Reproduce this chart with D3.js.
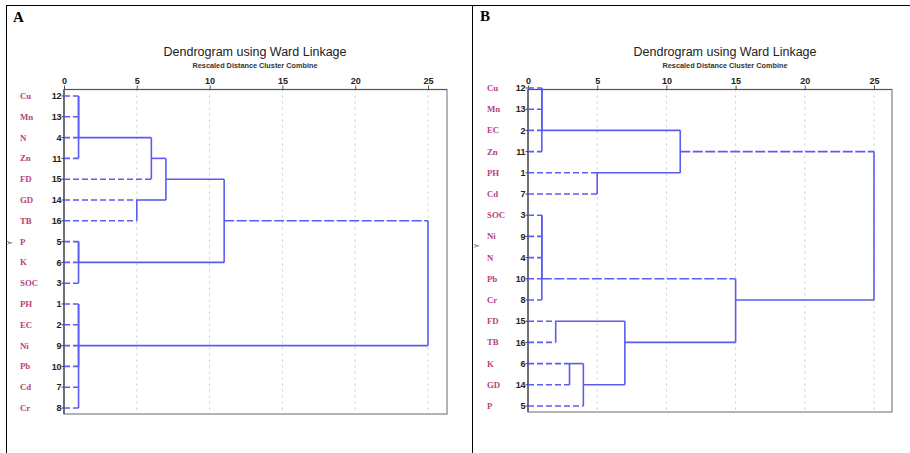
<!DOCTYPE html>
<html>
<head>
<meta charset="utf-8">
<script src="https://cdn.jsdelivr.net/npm/d3@7"></script>
<style>
  body { margin: 0; background: #fff; }
  svg { display: block; }
</style>
</head>
<body>
<svg width="910" height="453"></svg>
<script>
// leaf order (top to bottom) and SPSS case numbers
const leavesA = ["Cu", "Mn", "N", "Zn", "FD", "GD", "TB", "P", "K", "SOC", "PH", "EC", "Ni", "Pb", "Cd", "Cr"];
const casesA = [12, 13, 4, 11, 15, 14, 16, 5, 6, 3, 1, 2, 9, 10, 7, 8];
const leavesB = ["Cu", "Mn", "EC", "Zn", "PH", "Cd", "SOC", "Ni", "N", "Pb", "Cr", "FD", "TB", "K", "GD", "P"];
const casesB = [12, 13, 2, 11, 1, 7, 3, 9, 4, 10, 8, 15, 16, 6, 14, 5];

// agglomeration: [child1, child2, rescaled distance]; numbers = earlier merge index
const mergesA = [
  ["Cu", "Mn", 1], [0, "N", 1], [1, "Zn", 1],
  [2, "FD", 6], ["GD", "TB", 5], [3, 4, 7],
  ["P", "K", 1], [6, "SOC", 1], [5, 7, 11],
  ["PH", "EC", 1], ["Ni", "Pb", 1], ["Cd", "Cr", 1], [9, 10, 1], [12, 11, 1],
  [8, 13, 25]
];
const mergesB = [
  ["Cu", "Mn", 1], [0, "EC", 1], [1, "Zn", 1],
  ["PH", "Cd", 5], [2, 3, 11],
  ["SOC", "Ni", 1], [5, "N", 1], [6, "Pb", 1], [7, "Cr", 1],
  ["FD", "TB", 2], ["K", "GD", 3], [10, "P", 4], [9, 11, 7],
  [8, 12, 15],
  [4, 13, 25]
];
const ticks = [0, 5, 10, 15, 20, 25];

const blue = "#5b5bf2";
const svg = d3.select("svg");

// table borders
svg.append("line").attr("x1", 6).attr("x2", 910).attr("y1", 5.5).attr("y2", 5.5).attr("stroke", "#000");
svg.append("line").attr("x1", 6.5).attr("x2", 6.5).attr("y1", 5).attr("y2", 453).attr("stroke", "#000");
svg.append("line").attr("x1", 472.5).attr("x2", 472.5).attr("y1", 5).attr("y2", 453).attr("stroke", "#000");

// longDash: merge nodes whose outgoing line is drawn long-dashed in the original
const panels = [
  { letter: "A", lx: 13, ly: 22, leaves: leavesA, cases: casesA, merges: mergesA,
    x0: 64, x1: 428, right: 447, top: 89.5, bottom: 414, y0: 96, y1: 408,
    nameX: 20, numX: 61, titleX: 255, yLabX: 12, yLabY: 243, longDash: [8] },
  { letter: "B", lx: 480, ly: 21, leaves: leavesB, cases: casesB, merges: mergesB,
    x0: 528, x1: 874, right: 892, top: 89.5, bottom: 412, y0: 88, y1: 406,
    nameX: 487, numX: 525, titleX: 725, yLabX: 479, yLabY: 246, longDash: [4, 8] }
];

panels.forEach((p) => {
  const g = svg.append("g");
  const x = d3.scaleLinear().domain([0, 25]).range([p.x0, p.x1]);
  const y = d3.scalePoint().domain(p.leaves).range([p.y0, p.y1]);

  g.append("text").attr("x", p.lx).attr("y", p.ly).text(p.letter)
    .style("font-family", "Liberation Serif").style("font-weight", "bold").style("font-size", "15px");

  g.append("text").attr("x", p.titleX).attr("y", 56).attr("text-anchor", "middle")
    .text("Dendrogram using Ward Linkage")
    .style("font-family", "Liberation Sans").style("font-size", "12.5px").style("fill", "#222");
  g.append("text").attr("x", p.titleX).attr("y", 68).attr("text-anchor", "middle")
    .text("Rescaled Distance Cluster Combine")
    .style("font-family", "Liberation Sans").style("font-weight", "bold").style("font-size", "7.3px").style("fill", "#333");

  // dotted grid
  g.selectAll(".grid").data(ticks.slice(1)).join("line")
    .attr("x1", (d) => x(d)).attr("x2", (d) => x(d))
    .attr("y1", p.top).attr("y2", p.bottom)
    .attr("stroke", "#c8c8c8").attr("stroke-dasharray", "2,4");

  // frame
  g.append("rect").attr("x", p.x0).attr("y", p.top)
    .attr("width", p.right - p.x0).attr("height", p.bottom - p.top)
    .attr("fill", "none").attr("stroke", "#8a8a8a").attr("stroke-width", 1.3);
  g.append("line").attr("x1", p.x0).attr("x2", p.right).attr("y1", p.top).attr("y2", p.top)
    .attr("stroke", "#555").attr("stroke-width", 1.2);
  g.append("line").attr("x1", p.x0).attr("x2", p.x0).attr("y1", p.top).attr("y2", p.bottom)
    .attr("stroke", "#444").attr("stroke-width", 1.2);

  // top axis
  const ax = g.append("g").attr("transform", `translate(0,${p.top})`)
    .call(d3.axisTop(x).tickValues(ticks).tickSize(4).tickPadding(2));
  ax.select(".domain").remove();
  ax.selectAll("line").attr("stroke", "#555");
  ax.selectAll("text").style("font-family", "Liberation Sans").style("font-weight", "bold")
    .style("font-size", "9px").style("fill", "#222");

  // left row ticks and labels
  g.selectAll(".rt").data(p.leaves).join("line")
    .attr("x1", p.x0 - 2.5).attr("x2", p.x0).attr("y1", (d) => y(d)).attr("y2", (d) => y(d))
    .attr("stroke", "#444");
  g.selectAll(".num").data(p.leaves).join("text")
    .attr("x", p.numX).attr("y", (d) => y(d) + 3.2).attr("text-anchor", "end")
    .text((d, i) => p.cases[i])
    .style("font-family", "Liberation Sans").style("font-weight", "bold")
    .style("font-size", "9px").style("letter-spacing", "-0.4px").style("fill", "#222");
  g.selectAll(".name").data(p.leaves).join("text")
    .attr("x", p.nameX).attr("y", (d) => y(d) + 3)
    .text((d) => d)
    .style("font-family", "Liberation Serif").style("font-weight", "bold")
    .style("font-size", "8.8px").style("fill", "#b83f7c");

  g.append("text").attr("transform", `translate(${p.yLabX},${p.yLabY}) rotate(-90)`)
    .attr("text-anchor", "middle").text("Y")
    .style("font-family", "Liberation Sans").style("font-size", "7px").style("fill", "#444");

  // build the dendrogram segments
  const nodes = p.merges.map(() => null);
  const info = (c) => (typeof c === "string"
    ? { row: p.leaves.indexOf(c), d: 0, leaf: true }
    : { row: nodes[c].row, d: nodes[c].d, leaf: false, id: c });
  const segs = [];
  p.merges.forEach((m, i) => {
    const a = info(m[0]), b = info(m[1]);
    [a, b].forEach((c) => {
      segs.push({ x1: c.d, x2: m[2], r1: c.row, r2: c.row,
        dash: c.leaf ? "6,3" : (p.longDash.includes(c.id) ? "10,2.5" : null) });
    });
    segs.push({ x1: m[2], x2: m[2], r1: a.row, r2: b.row, dash: null });
    nodes[i] = { row: Math.floor((a.row + b.row) / 2), d: m[2] };
  });

  const row = (r) => y(p.leaves[r]);
  g.selectAll(".seg").data(segs).join("line")
    .attr("x1", (d) => x(d.x1)).attr("x2", (d) => x(d.x2))
    .attr("y1", (d) => row(d.r1)).attr("y2", (d) => row(d.r2))
    .attr("stroke", blue).attr("stroke-width", 1.6)
    .attr("stroke-dasharray", (d) => d.dash);
});
</script>
</body>
</html>
